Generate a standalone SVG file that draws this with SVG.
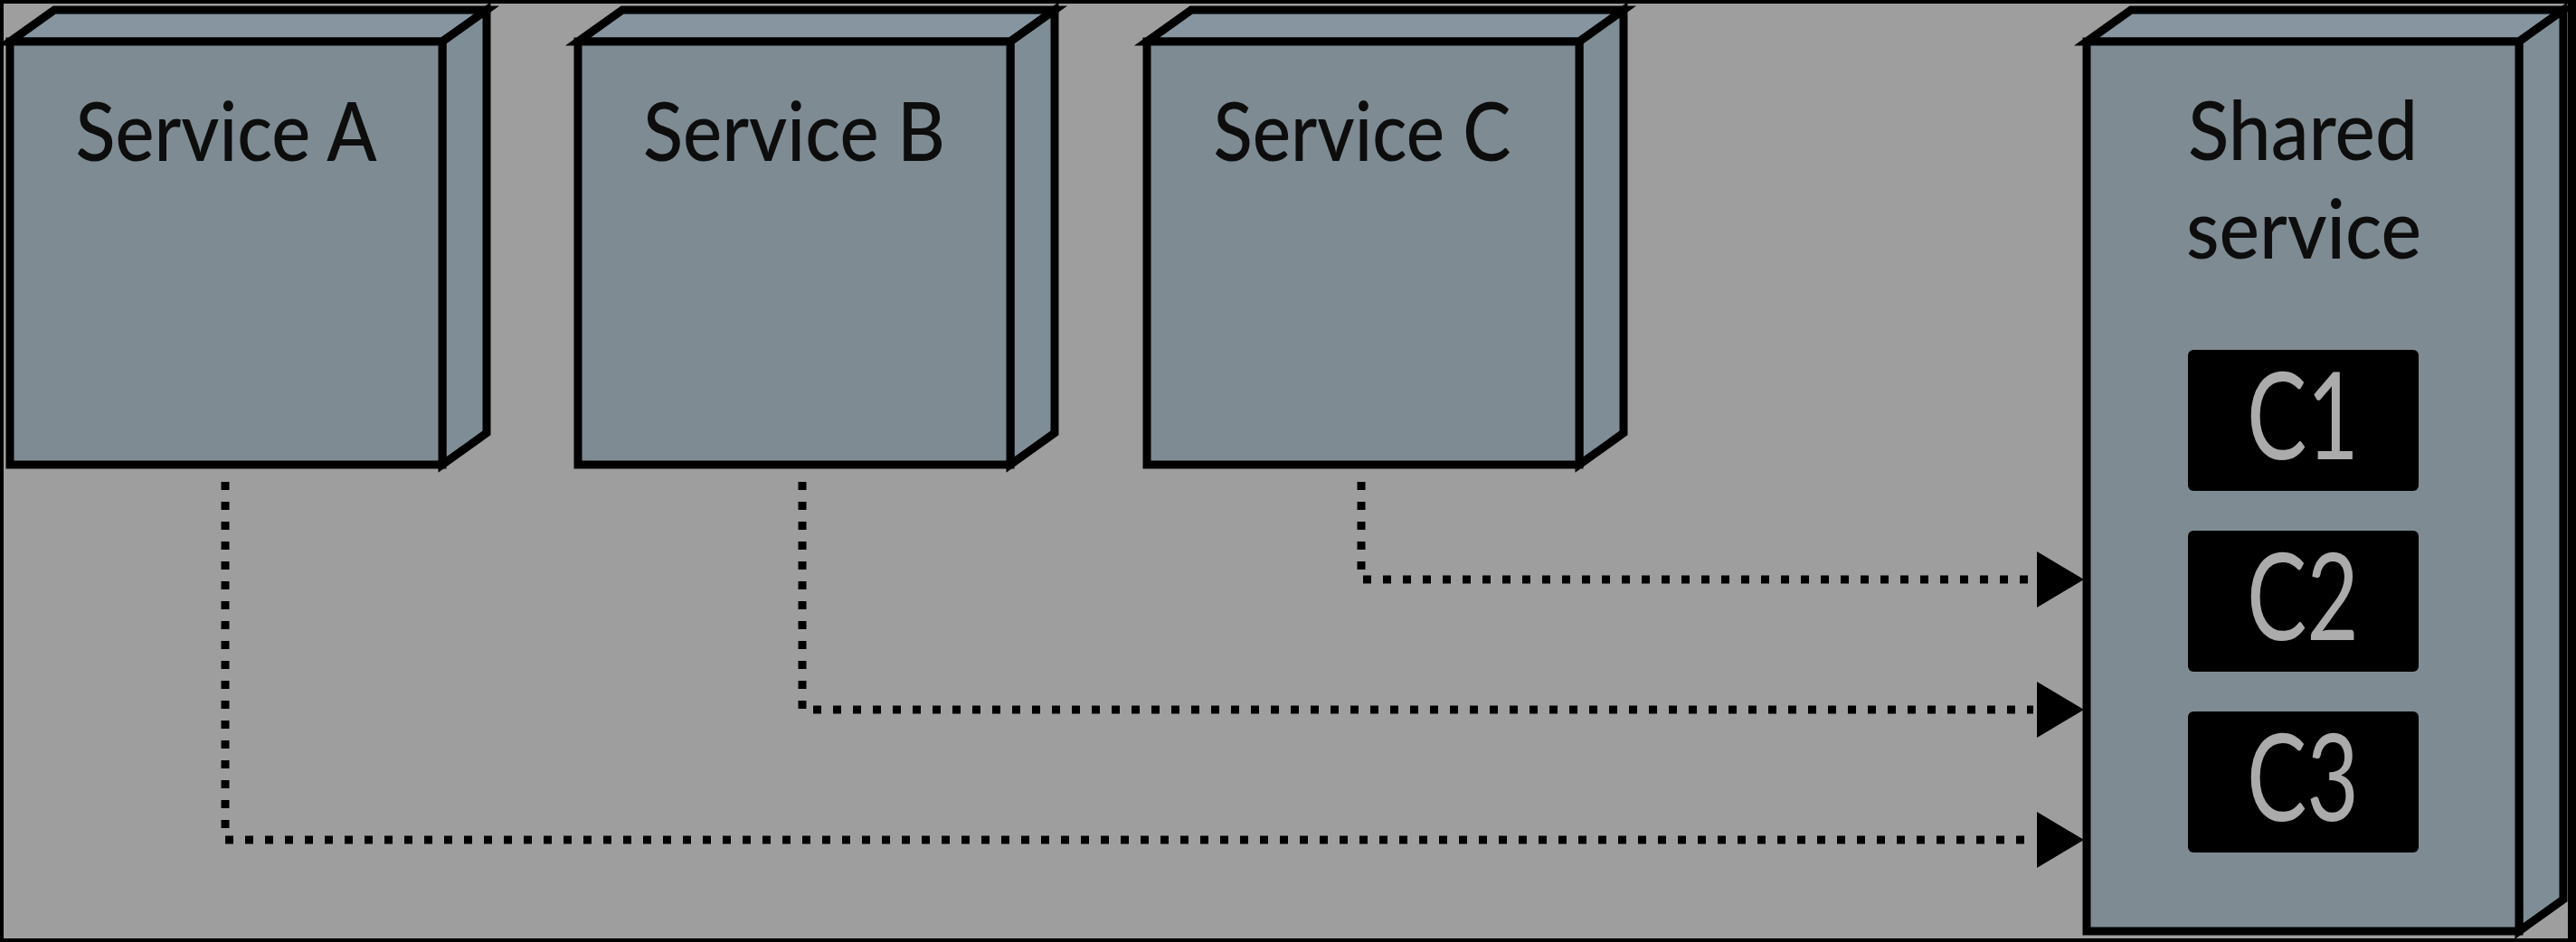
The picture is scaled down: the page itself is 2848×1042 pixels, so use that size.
<svg xmlns="http://www.w3.org/2000/svg" width="2848" height="1042" viewBox="0 0 2848 1042">
<style>
.face{fill:#7e8b93;stroke:#000;stroke-width:9;stroke-linejoin:miter}
.top{fill:#8795a0;stroke:#000;stroke-width:9;stroke-linejoin:miter}
.side{fill:#7f8d96;stroke:#000;stroke-width:9;stroke-linejoin:miter}
.lbl{font-family:Lato,"Noto Sans","Liberation Sans",sans-serif;font-weight:500;font-size:90px;fill:#0d0d0d;text-anchor:middle}
.cbox{fill:#000}
.clbl{font-family:Lato,"Noto Sans","Liberation Sans",sans-serif;font-size:134px;fill:#ababab;text-anchor:middle}
.dot{fill:none;stroke:#000;stroke-width:9;stroke-dasharray:9 13}
.arr{fill:#000}
</style>
<rect x="0" y="0" width="2848" height="1042" fill="#000"/>
<rect x="4" y="4" width="2835" height="1034" fill="#9e9e9e"/>

<g id="serviceA">
<polygon class="top" points="11,46 60,11 538,11 489,46"/>
<polygon class="side" points="489,46 538,11 538,479 489,514"/>
<rect class="face" x="11" y="46" width="478" height="468"/>
<text class="lbl" x="250" y="178" textLength="333" lengthAdjust="spacingAndGlyphs">Service A</text>
</g>

<g id="serviceB">
<polygon class="top" points="639,46 688,11 1166,11 1117,46"/>
<polygon class="side" points="1117,46 1166,11 1166,479 1117,514"/>
<rect class="face" x="639" y="46" width="478" height="468"/>
<text class="lbl" x="878" y="178" textLength="334" lengthAdjust="spacingAndGlyphs">Service B</text>
</g>

<g id="serviceC">
<polygon class="top" points="1268,46 1317,11 1795,11 1746,46"/>
<polygon class="side" points="1746,46 1795,11 1795,479 1746,514"/>
<rect class="face" x="1268" y="46" width="478" height="468"/>
<text class="lbl" x="1506" y="178" textLength="329" lengthAdjust="spacingAndGlyphs">Service C</text>
</g>

<g id="shared">
<polygon class="top" points="2307,46 2356,11 2834,11 2785,46"/>
<polygon class="side" points="2785,46 2834,11 2834,995 2785,1030"/>
<rect class="face" x="2307" y="46" width="478" height="984"/>
<text class="lbl" x="2546" y="177" textLength="254" lengthAdjust="spacingAndGlyphs">Shared</text>
<text class="lbl" x="2547" y="286" textLength="260" lengthAdjust="spacingAndGlyphs">service</text>
<g id="c1">
<rect class="cbox" x="2419" y="387" width="255" height="156" rx="6"/>
<text class="clbl" x="2546" y="508" textLength="124" lengthAdjust="spacingAndGlyphs">C1</text>
</g>
<g id="c2">
<rect class="cbox" x="2419" y="587" width="255" height="156" rx="6"/>
<text class="clbl" x="2546" y="708" textLength="124" lengthAdjust="spacingAndGlyphs">C2</text>
</g>
<g id="c3">
<rect class="cbox" x="2419" y="787" width="255" height="156" rx="6"/>
<text class="clbl" x="2546" y="908" textLength="124" lengthAdjust="spacingAndGlyphs">C3</text>
</g>
</g>

<g id="connectors">
<path class="dot" d="M249 533 V929 H2248"/>
<path class="dot" d="M887 533 V785 H2248"/>
<path class="dot" d="M1505 533 V641 H2248"/>
<polygon class="arr" points="2252,610 2304,641 2252,672"/>
<polygon class="arr" points="2252,754 2304,785 2252,816"/>
<polygon class="arr" points="2252,898 2304,929 2252,960"/>
</g>
</svg>
